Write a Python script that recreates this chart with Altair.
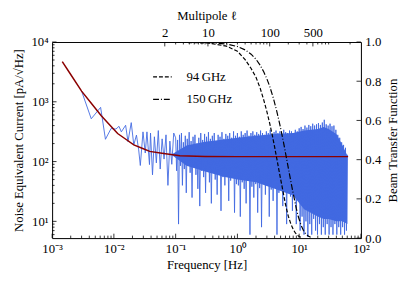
import altair as alt
import pandas as pd

# ---------------- data ----------------
# sparse low-frequency part of the measured spectrum
sparse_f = [0.0030, 0.0043, 0.0061, 0.0073, 0.0090, 0.0108, 0.0121, 0.0132, 0.0155, 0.0169,
            0.0191, 0.0210, 0.0232, 0.0252, 0.0268, 0.0296, 0.0322, 0.0343, 0.0377,
            0.0392, 0.0422, 0.0453, 0.0487, 0.0524, 0.0562, 0.0604, 0.0649, 0.0698, 0.0750,
            0.0806, 0.0866, 0.0931]
sparse_nec = [1510, 520, 807, 236, 357, 350, 389, 314, 405, 215,
              448, 190, 277, 157, 86, 314, 139, 314, 89,
              300, 60, 260, 95, 330, 75, 240, 110, 280, 40,
              220, 90, 300]

# dense part: sample positions inside each decade (mantissas) and the values read per decade
mantissa = [1.000, 1.037, 1.075, 1.114, 1.155, 1.197, 1.241, 1.287, 1.334, 1.383, 1.433, 1.486,
            1.540, 1.597, 1.655, 1.716, 1.778, 1.843, 1.911, 1.981, 2.054, 2.129, 2.207, 2.288,
            2.371, 2.458, 2.548, 2.642, 2.738, 2.839, 2.943, 3.051, 3.162, 3.278, 3.398, 3.523,
            3.652, 3.786, 3.924, 4.068, 4.217, 4.372, 4.532, 4.698, 4.870, 5.048, 5.233, 5.425,
            5.623, 5.829, 6.043, 6.264, 6.494, 6.732, 6.978, 7.234, 7.499, 7.774, 8.058, 8.354,
            8.660, 8.977, 9.306, 9.647]
nec_dec_01 = [250, 70, 230, 9, 280, 85, 300, 40, 210, 75, 270, 30, 240, 95, 310, 65, 220, 25, 260, 80,
              280, 60, 200, 35, 250, 18, 300, 70, 230, 55, 290, 30, 260, 85, 310, 45, 240, 20, 270, 75,
              300, 50, 220, 28, 280, 65, 260, 15, 310, 55, 240, 40, 290, 70, 270, 22, 300, 48, 250, 60,
              320, 14, 270, 42]
nec_dec_1 = [300, 40, 260, 12, 320, 45, 280, 35, 300, 20, 330, 48, 270, 6, 300, 38, 320, 25, 280, 42,
             310, 14, 290, 36, 330, 8, 300, 44, 280, 28, 320, 40, 300, 12, 340, 34, 290, 22, 310, 46,
             330, 6, 300, 30, 320, 40, 290, 18, 340, 36, 310, 9, 300, 32, 330, 26, 320, 15, 290, 38,
             340, 9, 320, 30]
nec_dec_10 = [360, 7, 380, 12, 350, 6, 400, 10, 370, 5.5, 410, 9, 390, 6, 430, 11, 400, 7, 420, 6,
              440, 9, 410, 6, 450, 8, 500, 6, 420, 9, 400, 6, 430, 8, 390, 6, 400, 9, 340, 6,
              280, 8, 250, 6, 210, 8, 190, 6, 170, 7, 130]

# solid core of the dense spectrum
band_f = [0.09, 0.15, 0.3, 0.6, 1.0, 2.0, 4.0, 8.0, 12.0, 20.0, 25.0, 30.0, 40.0, 50.0, 60.4]
band_lo = [125, 85, 68, 56, 50, 45, 35, 27, 16, 12, 11, 11, 10, 10, 9]
band_hi = [135, 185, 215, 235, 250, 270, 290, 300, 330, 350, 380, 350, 290, 190, 125]

# fitted noise model (dark red)
fit_f = [0.00146, 0.002, 0.003, 0.0045, 0.0062, 0.0085, 0.0115, 0.015, 0.021, 0.03, 0.038,
         0.06, 0.117, 0.3, 1.0, 3.0, 10.0, 30.0, 62.0]
fit_nec = [4700, 2860, 1510, 895, 590, 414, 295, 243, 190, 164, 148, 138, 125, 122, 121, 121, 121, 121, 121]

# beam transfer functions vs multipole
bands = ["94\u2009GHz", "150\u2009GHz"]
ell_94 = [2, 10, 20, 30, 40, 50, 60, 70, 80, 90, 100, 110, 120, 130, 140, 150, 165, 180, 200, 220,
          240, 260, 280, 300, 320]
btf_94 = [1.0, 0.995, 0.979, 0.953, 0.91, 0.865, 0.82, 0.765, 0.705, 0.645, 0.585, 0.525, 0.465,
          0.407, 0.352, 0.302, 0.235, 0.172, 0.112, 0.072, 0.045, 0.026, 0.015, 0.008, 0.004]
ell_150 = [2, 10, 20, 30, 40, 50, 60, 70, 80, 90, 100, 115, 130, 145, 160, 175, 190, 210, 230, 250,
           270, 290, 320, 350, 380, 420, 460]
btf_150 = [1.0, 0.998, 0.99, 0.977, 0.96, 0.938, 0.912, 0.882, 0.848, 0.812, 0.774, 0.712, 0.648,
           0.583, 0.519, 0.456, 0.396, 0.322, 0.257, 0.201, 0.150, 0.110, 0.068, 0.040, 0.023, 0.010, 0.004]

# axis ticks / labels
x_tick_vals = [0.001, 0.01, 0.1, 1, 10, 100]
x_tick_labels = ["10\u207b\u00b3", "10\u207b\u00b2", "10\u207b\u00b9", "10\u2070", "10\u00b9", "10\u00b2"]
y_tick_vals = [10, 100, 1000, 10000]
y_tick_labels = ["10\u00b9", "10\u00b2", "10\u00b3", "10\u2074"]
ell_tick_vals = [2, 10, 100, 500]
ell_tick_labels = ["2", "10", "100", "500"]
btf_tick_vals = [0.0, 0.2, 0.4, 0.6, 0.8, 1.0]
btf_tick_labels = ["0.0", "0.2", "0.4", "0.6", "0.8", "1.0"]

# ---------------- build ----------------
W, H = 315, 200
FONT = "Liberation Serif, Times New Roman, serif"
FS = 13
BLUE = "#4169e1"


def label_expr(vals, labels):
    parts = [f"abs(datum.value - {float(v)}) <= {abs(float(v)) * 1e-6 + 1e-9} ? '{l}'"
             for v, l in zip(vals, labels)]
    return " : ".join(parts) + " : ''"


def minor(decades):
    return [m * 10.0 ** e for e in decades for m in range(2, 10)]


dense_f = ([round(m * 0.1, 5) for m in mantissa] + [round(m * 1.0, 4) for m in mantissa]
           + [round(m * 10.0, 3) for m in mantissa[:len(nec_dec_10)]])
dense_nec = nec_dec_01 + nec_dec_1 + nec_dec_10

noise_df = pd.DataFrame({"f": sparse_f + dense_f, "nec": sparse_nec + dense_nec})
band_df = pd.DataFrame({"f": band_f, "lo": band_lo, "hi": band_hi})
fit_df = pd.DataFrame({"f": fit_f, "nec": fit_nec})
beam_df = pd.concat([
    pd.DataFrame({"ell": ell_94, "btf": btf_94, "band": bands[0]}),
    pd.DataFrame({"ell": ell_150, "btf": btf_150, "band": bands[1]}),
])

xs = alt.Scale(type="log", domain=[1e-3, 1e2], nice=False)
ys = alt.Scale(type="log", domain=[5.25, 1e4], nice=False)
ls = alt.Scale(type="log", domain=[0.03, 3000], nice=False)
bs = alt.Scale(domain=[0, 1], nice=False)

common = dict(labelFont=FONT, titleFont=FONT, labelFontSize=FS, titleFontSize=FS,
              titleFontWeight="normal", labelColor="black", titleColor="black",
              domainColor="black", domainWidth=1, ticks=False, grid=False,
              labelOverlap=False, labelFlush=False)

x_axis = alt.Axis(orient="bottom", values=x_tick_vals, labelExpr=label_expr(x_tick_vals, x_tick_labels),
                  title="Frequency [Hz]", labelPadding=5, titlePadding=3, **common)
y_axis = alt.Axis(orient="left", values=y_tick_vals, labelExpr=label_expr(y_tick_vals, y_tick_labels),
                  title="Noise Equivalent Current [pA/\u221aHz]", labelPadding=4, titlePadding=6, **common)
top_axis = alt.Axis(orient="top", values=ell_tick_vals, labelExpr=label_expr(ell_tick_vals, ell_tick_labels),
                    title="Multipole \u2113", labelPadding=3, titlePadding=4, **common)
right_axis = alt.Axis(orient="right", values=btf_tick_vals, labelExpr=label_expr(btf_tick_vals, btf_tick_labels),
                      title="Beam Transfer Function", labelPadding=4, titlePadding=6, titleAngle=270,
                      titleBaseline="top", **common)

band = alt.Chart(band_df).mark_area(color=BLUE, clip=True).encode(
    x=alt.X("f:Q", scale=xs, axis=x_axis),
    y=alt.Y("lo:Q", scale=ys, axis=y_axis),
    y2="hi:Q",
)
noise = alt.Chart(noise_df).mark_line(color=BLUE, strokeWidth=0.9, clip=True).encode(
    x=alt.X("f:Q", scale=xs, axis=x_axis),
    y=alt.Y("nec:Q", scale=ys, axis=y_axis),
)
fit = alt.Chart(fit_df).mark_line(color="#8b0000", strokeWidth=1.5, clip=True).encode(
    x=alt.X("f:Q", scale=xs, axis=x_axis),
    y=alt.Y("nec:Q", scale=ys, axis=y_axis),
)


def xticks(vals, ln, scale, field, axis, from_top):
    d = pd.DataFrame({field: vals})
    y0 = 0 if from_top else H
    y1 = ln if from_top else H - ln
    return alt.Chart(d).mark_rule(color="black", strokeWidth=0.8).encode(
        x=alt.X(f"{field}:Q", scale=scale, axis=axis),
        y=alt.value(y0), y2=alt.value(y1))


def yticks(vals, ln, scale, field, axis, from_right):
    d = pd.DataFrame({field: vals})
    x0 = W if from_right else 0
    x1 = W - ln if from_right else ln
    return alt.Chart(d).mark_rule(color="black", strokeWidth=0.8).encode(
        y=alt.Y(f"{field}:Q", scale=scale, axis=axis),
        x=alt.value(x0), x2=alt.value(x1))


bx_min = minor(range(-3, 2))
ly_min = [6, 7, 8, 9] + minor(range(1, 4))
top_min = [3, 4, 5, 6, 7, 8, 9, 20, 30, 40, 50, 60, 70, 80, 90, 200, 300, 400, 600, 700,
           800, 900, 2000]

layerA = alt.layer(
    band, noise, fit,
    xticks(x_tick_vals, 4.5, xs, "f", x_axis, False),
    xticks(bx_min, 2.5, xs, "f", x_axis, False),
    yticks(y_tick_vals, 4.5, ys, "nec", y_axis, False),
    yticks(ly_min, 2.5, ys, "nec", y_axis, False),
)

beam = alt.Chart(beam_df).mark_line(color="black", strokeWidth=1.2, clip=True).encode(
    x=alt.X("ell:Q", scale=ls, axis=top_axis),
    y=alt.Y("btf:Q", scale=bs, axis=right_axis),
    strokeDash=alt.StrokeDash(
        "band:N",
        scale=alt.Scale(domain=bands, range=[[4, 2], [6, 2, 1, 2]]),
        legend=alt.Legend(title=None, orient="none", legendX=102, legendY=25, symbolType="stroke",
                          symbolStrokeColor="black", symbolStrokeWidth=1.2, symbolSize=361,
                          labelFont=FONT, labelFontSize=FS, labelColor="black", labelOffset=14,
                          rowPadding=5, padding=0),
    ),
)

layerB = alt.layer(
    beam,
    xticks(ell_tick_vals, 4.5, ls, "ell", top_axis, True),
    xticks(top_min, 2.5, ls, "ell", top_axis, True),
    yticks(btf_tick_vals, 4.5, bs, "btf", right_axis, True),
)

chart = alt.layer(layerA, layerB).resolve_scale(
    x="independent", y="independent"
).properties(
    width=W, height=H,
    autosize=alt.AutoSizeParams(type="none"),
    padding={"left": 45, "top": 32, "right": 48, "bottom": 37},
).configure_view(stroke=None).configure_axis(
    labelFont=FONT, titleFont=FONT, labelFontSize=FS, titleFontSize=FS, titleFontWeight="normal"
).configure_legend(labelFont=FONT).configure(background="white", font=FONT)

chart.save("out.html", embed_options={"renderer": "svg", "actions": False})
